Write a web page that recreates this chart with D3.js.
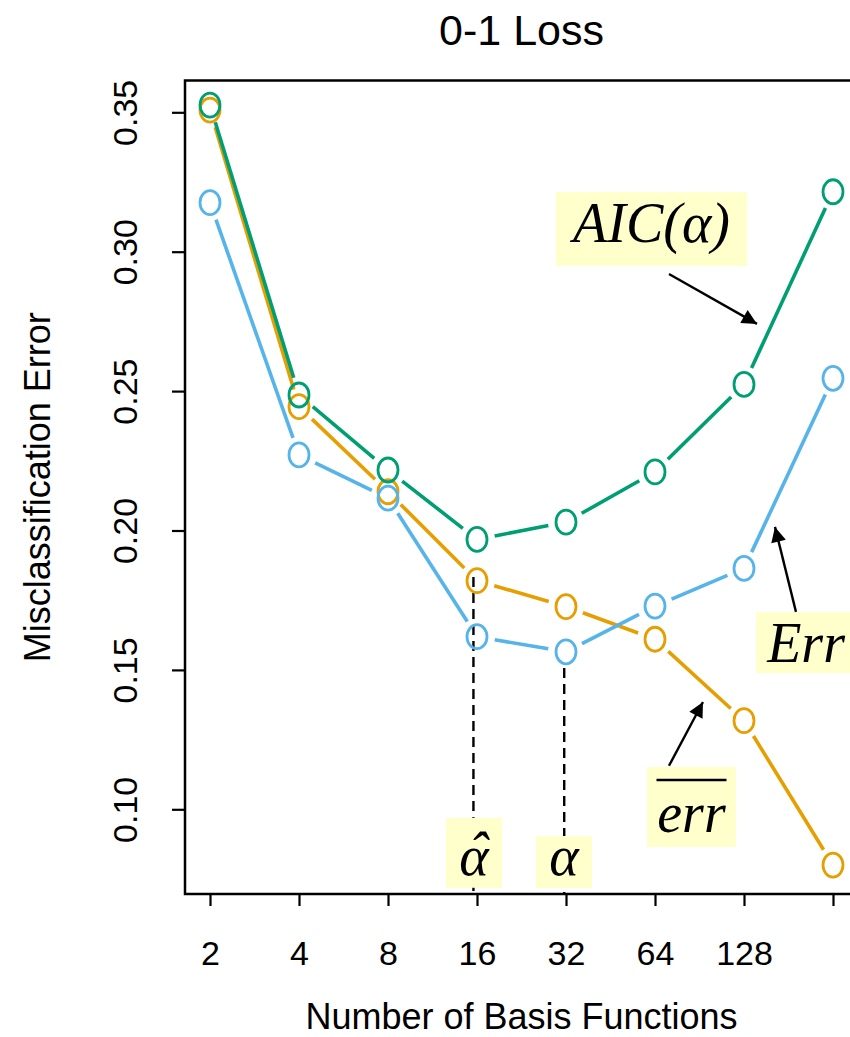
<!DOCTYPE html>
<html>
<head>
<meta charset="utf-8">
<script src="https://cdn.jsdelivr.net/npm/d3@7"></script>
<style>
  body { margin: 0; background: #fff; }
  svg { display: block; }
  .axis text { font-family: "Liberation Sans", Arial, sans-serif; font-size: 34px; fill: #000; }
  .axis line { stroke: #000; stroke-width: 2.2; }
  .title { font-family: "Liberation Sans", Arial, sans-serif; fill: #000; }
  .lbl { font-family: "Liberation Serif", "Times New Roman", serif; font-style: italic; font-size: 56px; fill: #000; }
</style>
</head>
<body>
<div id="chart"></div>
<script>
// data
const nBasis = [2, 4, 8, 16, 32, 64, 128, 256];
const xTickLabels = ['2', '4', '8', '16', '32', '64', '128', ''];
const yTicks = [0.10, 0.15, 0.20, 0.25, 0.30, 0.35];
const aicValues = [0.3526, 0.2486, 0.2217, 0.1968, 0.2030, 0.2210, 0.2524, 0.3215];
const errTestValues = [0.3176, 0.2271, 0.2116, 0.1619, 0.1565, 0.1729, 0.1864, 0.2546];
const errTrainValues = [0.3508, 0.2444, 0.2139, 0.1820, 0.1727, 0.1610, 0.1318, 0.0800];

// annotation anchors, in (log2 basis functions, error) units
const labels = [
  { text: 'AIC(α)', at: [5.961, 0.3081], w: 191, h: 74, base: 13 },
  { text: 'Err', at: [7.697, 0.1598], w: 100, h: 61, base: 19 },
  { text: 'err', at: [6.410, 0.1008], w: 89, h: 80, base: 25, bar: true },
  { text: 'α', at: [3.966, 0.0844], w: 56, h: 70, base: 22, hat: true },
  { text: 'α', at: [4.978, 0.0811], w: 56, h: 52, base: 13 }
];
const arrows = [
  { from: [6.157, 0.2920], to: [7.146, 0.2741] },
  { from: [7.584, 0.1708], to: [7.348, 0.2013] },
  { from: [6.157, 0.1156], to: [6.539, 0.1385] }
];
const dropLines = [
  { at: 3.96, from: 0.1833 },
  { at: 4.98, from: 0.1507 }
];

const width = 850;
const height = 1037;
const box = { left: 185, right: 858, top: 80.5, bottom: 894 };
const colors = { aic: '#009E73', test: '#56B4E9', train: '#E69F00' };

const svg = d3.select('#chart')
  .append('svg')
  .attr('width', width)
  .attr('height', height);

const x = d3.scaleLog().base(2).domain([2, 256]).range([box.left + 25, box.right - 25]);
const y = d3.scaleLinear().domain([0.10, 0.35]).range([809.3, 112.3]);
const xl = (l) => x(Math.pow(2, l));

svg.append('rect')
  .attr('x', box.left)
  .attr('y', box.top)
  .attr('width', box.right - box.left)
  .attr('height', box.bottom - box.top)
  .attr('fill', 'none')
  .attr('stroke', '#000')
  .attr('stroke-width', 2.5);

let xAxis = svg.append('g')
  .attr('class', 'axis')
  .attr('transform', 'translate(0,' + box.bottom + ')')
  .call(d3.axisBottom(x).tickValues(nBasis).tickFormat((d, i) => xTickLabels[i]).tickSize(12).tickSizeOuter(0));
xAxis.select('.domain').remove();
xAxis.selectAll('text').attr('y', 71).attr('dy', 0);

let yAxis = svg.append('g')
  .attr('class', 'axis')
  .attr('transform', 'translate(' + box.left + ',0)')
  .call(d3.axisLeft(y).tickValues(yTicks).tickFormat(d3.format('.2f')).tickSize(13).tickSizeOuter(0));
yAxis.select('.domain').remove();
yAxis.selectAll('text')
  .attr('transform', 'rotate(-90)')
  .attr('x', 0)
  .attr('y', -48)
  .attr('dy', 0)
  .attr('text-anchor', 'middle');

svg.append('text').attr('class', 'title')
  .attr('x', (box.left + box.right) / 2).attr('y', 45)
  .attr('text-anchor', 'middle').style('font-size', '43px')
  .text('0-1 Loss');
svg.append('text').attr('class', 'title')
  .attr('x', (box.left + box.right) / 2).attr('y', 1029)
  .attr('text-anchor', 'middle').style('font-size', '36px')
  .text('Number of Basis Functions');
svg.append('text').attr('class', 'title')
  .attr('transform', 'translate(50,' + (box.top + box.bottom) / 2 + ') rotate(-90)')
  .attr('text-anchor', 'middle').style('font-size', '36px')
  .text('Misclassification Error');

// dashed drop lines under the alpha labels
svg.selectAll('line.drop').data(dropLines).enter().append('line')
  .attr('class', 'drop')
  .attr('x1', (d) => xl(d.at)).attr('x2', (d) => xl(d.at))
  .attr('y1', (d) => y(d.from)).attr('y2', box.bottom)
  .attr('stroke', '#000').attr('stroke-width', 2.4)
  .attr('stroke-dasharray', '10,6');

// R type="b": segments stop short of the points
function drawSeries(values, color) {
  let g = svg.append('g');
  let pts = nBasis.map((n, i) => [x(n), y(values[i])]);
  let gap = 18;
  for (let i = 0; i < pts.length - 1; i++) {
    let [x1, y1] = pts[i];
    let [x2, y2] = pts[i + 1];
    let len = Math.hypot(x2 - x1, y2 - y1);
    if (len <= 2 * gap) continue;
    let ux = (x2 - x1) / len, uy = (y2 - y1) / len;
    g.append('line')
      .attr('x1', x1 + ux * gap).attr('y1', y1 + uy * gap)
      .attr('x2', x2 - ux * gap).attr('y2', y2 - uy * gap)
      .attr('stroke', color).attr('stroke-width', 3.6);
  }
  g.selectAll('ellipse').data(pts).enter().append('ellipse')
    .attr('cx', (d) => d[0]).attr('cy', (d) => d[1])
    .attr('rx', 10).attr('ry', 12)
    .attr('fill', 'none').attr('stroke', color).attr('stroke-width', 2.8);
}
drawSeries(errTrainValues, colors.train);
drawSeries(errTestValues, colors.test);
drawSeries(aicValues, colors.aic);

// yellow label boxes
labels.forEach((d) => {
  let cx = xl(d.at[0]), cy = y(d.at[1]);
  svg.append('rect')
    .attr('x', cx - d.w / 2).attr('y', cy - d.h / 2)
    .attr('width', d.w).attr('height', d.h)
    .attr('fill', '#FFFFCC');
  let t = svg.append('text').attr('class', 'lbl')
    .attr('x', cx).attr('y', cy + d.base)
    .attr('text-anchor', 'middle')
    .text(d.text);
  if (d.bar) {
    svg.append('line')
      .attr('x1', cx - 35).attr('x2', cx + 35)
      .attr('y1', cy - 27).attr('y2', cy - 27)
      .attr('stroke', '#000').attr('stroke-width', 2.6);
  }
  if (d.hat) {
    // hat as a tspan of the same text, pulled back over the alpha
    let w = t.node().getComputedTextLength();
    t.attr('text-anchor', 'start').attr('x', cx - w / 2);
    let hat = t.append('tspan').attr('dy', -4).text('ˆ');
    let hw = hat.node().getComputedTextLength();
    hat.attr('dx', -(w / 2 + hw / 2) + 4);
  }
});

svg.append('defs').append('marker')
  .attr('id', 'head')
  .attr('viewBox', '0 0 10 10')
  .attr('refX', 10).attr('refY', 5)
  .attr('markerUnits', 'userSpaceOnUse')
  .attr('markerWidth', 19).attr('markerHeight', 15)
  .attr('orient', 'auto')
  .append('path').attr('d', 'M0,0L10,5L0,10Z').attr('fill', '#000');

svg.selectAll('line.arrow').data(arrows).enter().append('line')
  .attr('class', 'arrow')
  .attr('x1', (d) => xl(d.from[0])).attr('y1', (d) => y(d.from[1]))
  .attr('x2', (d) => xl(d.to[0])).attr('y2', (d) => y(d.to[1]))
  .attr('stroke', '#000').attr('stroke-width', 2.4)
  .attr('marker-end', 'url(#head)');
</script>
</body>
</html>
